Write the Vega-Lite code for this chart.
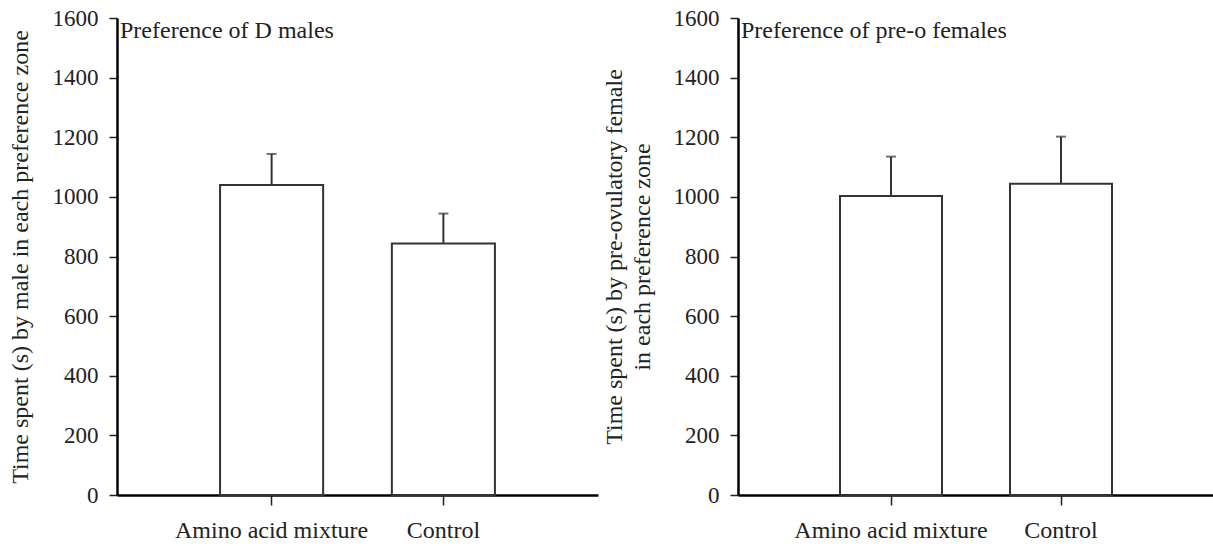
{
  "$schema": "https://vega.github.io/schema/vega-lite/v6.json",
  "autosize": {"type": "pad"},
  "padding": {"left": 8, "top": 7, "right": 0, "bottom": 0},
  "background": "white",
  "spacing": 4,
  "config": {
    "view": {"stroke": null},
    "font": "Liberation Serif",
    "axis": {
      "labelFont": "Liberation Serif",
      "titleFont": "Liberation Serif",
      "labelColor": "#222",
      "titleColor": "#222",
      "titleFontWeight": "normal",
      "domainColor": "#000",
      "domainWidth": 2.5,
      "tickColor": "#222",
      "tickWidth": 1.5,
      "grid": false
    },
    "title": {"font": "Liberation Serif", "fontWeight": "normal", "color": "#222"}
  },
  "data": {
    "values": [
      {"panel": "male", "group": "Amino acid mixture", "value": 1040, "upper": 1144},
      {"panel": "male", "group": "Control", "value": 844, "upper": 944},
      {"panel": "female", "group": "Amino acid mixture", "value": 1003, "upper": 1135},
      {"panel": "female", "group": "Control", "value": 1044, "upper": 1202}
    ]
  },
  "hconcat": [
    {
      "width": 481,
      "height": 477,
      "title": {"text": "Preference of D males", "anchor": "start", "frame": "group", "orient": "top", "offset": -55, "dx": 3, "baseline": "alphabetic", "fontSize": 24},
      "transform": [{"filter": "datum.panel === 'male'"}],
      "encoding": {
        "x": {
          "field": "group", "type": "nominal", "sort": null,
          "scale": {"paddingInner": 0.4, "paddingOuter": 0.6},
          "axis": {"title": null, "labelAngle": 0, "labelFontSize": 24, "labelLimit": 0, "tickSize": 10, "labelPadding": 13, "domainWidth": 2.5}
        }
      },
      "layer": [
        {
          "mark": {"type": "bar", "fill": "white", "stroke": "#333", "strokeWidth": 2},
          "encoding": {
            "y": {
              "field": "value", "type": "quantitative",
              "scale": {"domain": [0, 1600], "nice": false},
              "axis": {"title": "Time spent (s) by male in each preference zone", "titleFontSize": 24, "labelFontSize": 23, "format": "d", "labelOverlap": false, "values": [0,200,400,600,800,1000,1200,1400,1600], "tickSize": 8, "labelPadding": 11, "titlePadding": 20}
            }
          }
        },
        {
          "mark": {"type": "rule", "stroke": "#333", "strokeWidth": 2},
          "encoding": {"y": {"field": "value", "type": "quantitative"}, "y2": {"field": "upper"}}
        },
        {
          "mark": {"type": "tick", "orient": "horizontal", "size": 10, "thickness": 2, "color": "#333"},
          "encoding": {"y": {"field": "upper", "type": "quantitative"}}
        }
      ]
    },
    {
      "width": 476,
      "height": 477,
      "title": {"text": "Preference of pre-o females", "anchor": "start", "frame": "group", "orient": "top", "offset": -55, "dx": 3, "baseline": "alphabetic", "fontSize": 24},
      "transform": [{"filter": "datum.panel === 'female'"}],
      "encoding": {
        "x": {
          "field": "group", "type": "nominal", "sort": null,
          "scale": {"paddingInner": 0.4, "paddingOuter": 0.6},
          "axis": {"title": null, "labelAngle": 0, "labelFontSize": 24, "labelLimit": 0, "tickSize": 10, "labelPadding": 13, "domainWidth": 2.5}
        }
      },
      "layer": [
        {
          "mark": {"type": "bar", "fill": "white", "stroke": "#333", "strokeWidth": 2},
          "encoding": {
            "y": {
              "field": "value", "type": "quantitative",
              "scale": {"domain": [0, 1600], "nice": false},
              "axis": {"title": ["Time spent (s) by pre-ovulatory female", "in each preference zone"], "titleFontSize": 24, "titleLineHeight": 28, "labelFontSize": 23, "format": "d", "labelOverlap": false, "values": [0,200,400,600,800,1000,1200,1400,1600], "tickSize": 8, "labelPadding": 11, "titlePadding": 19}
            }
          }
        },
        {
          "mark": {"type": "rule", "stroke": "#333", "strokeWidth": 2},
          "encoding": {"y": {"field": "value", "type": "quantitative"}, "y2": {"field": "upper"}}
        },
        {
          "mark": {"type": "tick", "orient": "horizontal", "size": 10, "thickness": 2, "color": "#333"},
          "encoding": {"y": {"field": "upper", "type": "quantitative"}}
        }
      ]
    }
  ]
}
